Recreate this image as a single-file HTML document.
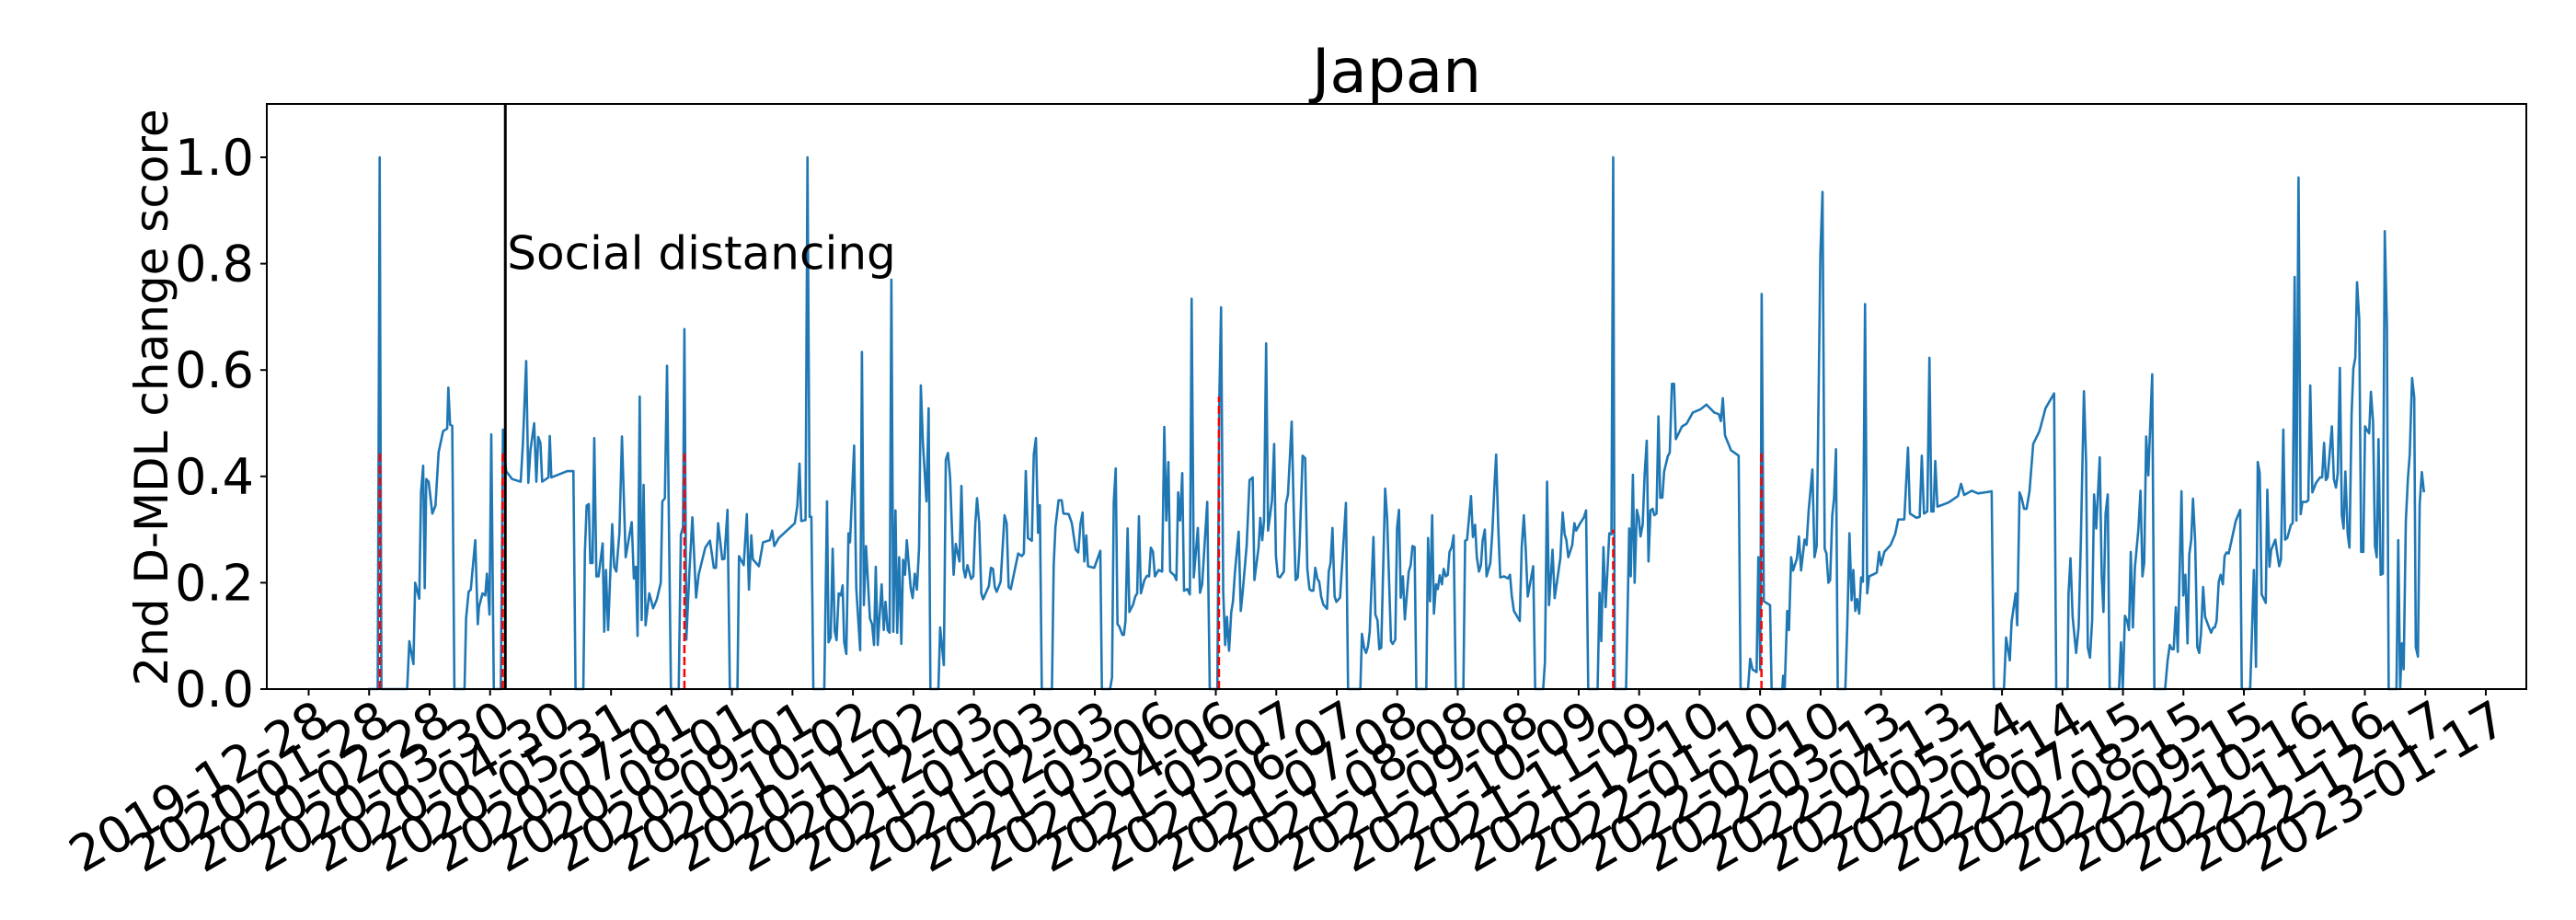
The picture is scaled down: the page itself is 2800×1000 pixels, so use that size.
<!DOCTYPE html>
<html><head><meta charset="utf-8"><style>
html,body{margin:0;padding:0;background:#fff;}
svg{display:block;font-family:"DejaVu Sans","Liberation Sans",sans-serif;}
</style></head><body>
<svg id="chart" width="2800" height="1000" viewBox="0 0 2800 1000" xmlns="http://www.w3.org/2000/svg">
<rect width="2800" height="1000" fill="#fff"/>
<text x="1518" y="100" font-size="66" text-anchor="middle">Japan</text>
<text transform="translate(182,432) rotate(-90)" font-size="50" text-anchor="middle">2nd D-MDL change score</text>
<g id="marks"></g>
<rect x="290" y="113" width="2456" height="636" fill="none" stroke="#000" stroke-width="2"/>
<g id="axes"></g>
</svg>
<script>
const tickLabels=["2019-12-28","2020-01-28","2020-02-28","2020-03-30","2020-04-30","2020-05-31","2020-07-01","2020-08-01","2020-09-01","2020-10-02","2020-11-02","2020-12-03","2021-01-03","2021-02-03","2021-03-06","2021-04-06","2021-05-07","2021-06-07","2021-07-08","2021-08-08","2021-09-08","2021-10-09","2021-11-09","2021-12-10","2022-01-10","2022-02-10","2022-03-13","2022-04-13","2022-05-14","2022-06-14","2022-07-15","2022-08-15","2022-09-15","2022-10-16","2022-11-16","2022-12-17","2023-01-17"];
const yTicks=[0,0.2,0.4,0.6,0.8,1.0];
const yTickLabels=["0.0","0.2","0.4","0.6","0.8","1.0"];
const days=[30.4,35.4,36.4,37.3,50.5,51.6,53.7,54.6,56.7,57.6,58.7,59.5,60.3,61.5,63.4,65,66.6,68.9,71,71.6,72.5,73.6,74.7,79.9,80.7,82,83.1,85.4,86.7,87.3,89.1,90.5,91.4,92.7,93.6,94.9,98.5,99.6,101.2,104.3,108.7,109.8,111.5,112.6,113.7,115.6,116.7,117.7,118.8,119.7,122.9,123.6,124.4,132.6,135.7,136.8,140.8,141.6,142.5,143.6,144.4,145.5,146.4,147.5,148.6,150.7,151.5,152.4,153.5,155.6,156.6,157.7,159.3,160.6,162.5,165.6,166.7,167.7,168.6,169.7,170.7,171.7,172.7,174.6,176.6,178.5,180.5,181.3,182.6,183.7,185.7,189.7,190.8,191.9,192.6,193.6,195.2,196.7,198.6,199.9,203.3,205.7,207.7,208.8,209.9,212,213.1,214.7,215.9,219.8,220.6,223,224.6,225.7,226.9,227.7,230.8,232.9,236.4,237.6,238.7,241,249.2,250.5,251.6,252.5,254.7,255.7,256.8,257.7,258.7,264.3,265.7,266.5,267.6,268.6,269.7,270.6,271.7,272.8,273.7,274.5,275.6,276.7,277.5,279.6,280.7,282.7,283.6,284.6,285.7,287.7,288.8,289.8,290.7,291.7,293.7,294.8,295.7,296.8,297.8,298.7,299.7,300.8,301.7,302.7,303.8,304.7,305.7,306.6,308.6,309.6,310.7,311.8,312.9,313.8,314.9,316.7,317.8,318.7,322.8,323.7,325.6,326.6,327.7,328.8,330.6,331.7,333.6,334.6,335.7,336.6,337.7,339.6,340.7,341.7,342.6,343.7,344.8,345.7,348.7,349.7,350.8,351.7,352.7,354.7,356.7,357.8,358.8,359.9,363.7,365.5,366.6,367.6,368.7,370.7,371.7,372.8,373.9,374.8,375.8,381,381.9,382.8,384.4,386,386.9,389.6,391.2,393.2,394.5,395.6,396.7,397.6,398.6,399.5,402.7,405.8,406.6,410.8,411.8,412.7,413.7,414.6,415.5,417.1,417.9,418.7,419.8,420.7,422.6,423.7,424.7,425.6,426.6,428.4,429.7,430.8,431.7,432.8,433.8,435.7,437.5,438.6,439.6,440.7,441.6,443.7,444.8,445.7,446.7,447.8,448.7,450.4,451.7,452.6,453.7,455.8,456.9,458,460.6,461.9,465.8,466.8,467.7,468.8,469.8,470.7,471.8,472.9,473.8,474.8,476.7,477.8,478.7,480.8,482.3,483.9,484.8,486.9,487.8,488.8,489.7,490.8,491.8,493.8,494.9,495.8,496.8,497.9,499.9,500.9,502,503.9,505.1,505.9,507,507.9,509.5,510.8,511.9,513,514.1,515,516,517.1,518,519,520.1,522,522.9,523.8,524.8,525.9,526.8,528.7,531.7,532.8,539.1,539.9,541,542,543,543.9,545.8,546.8,547.9,548.8,549.8,551.8,552.8,554.8,555.7,557,557.9,558.9,559.8,560.9,561.9,563.9,564.9,565.8,566.9,567.8,572.9,573.8,574.8,575.9,576.8,577.9,578.8,579.8,580.9,581.8,582.9,583.9,584.8,585.9,586.9,588,591.9,592.8,593.8,595.8,596.8,597.9,598.8,599.9,600.9,601.8,602.9,603.8,605.7,606.8,607.8,608.7,609.8,610.8,612.8,614.7,615.8,616.7,617.8,620.8,621.8,622.9,623.8,624.9,627.7,628.7,632.8,633.7,634.8,635.8,637.6,638.7,641.6,642.8,643.8,644.7,645.7,647.7,648.8,649.7,651.8,653.7,654.8,655.9,660.7,661.7,662.6,663.7,664.8,666.7,667.8,668.7,669.5,675.3,676.9,677.7,678.8,679.7,680.8,681.8,682.7,683.8,684.8,685.9,686.8,687.8,688.9,689.8,690.9,691.9,692.8,693.9,694.8,696.7,697.7,698.8,699.9,700.8,704,706.3,709.5,713.4,716.5,720.5,722.8,723.9,724.9,726,729.1,733,734,737.8,738.9,740.1,742.2,743.1,744.1,744.8,745.9,749.1,749.9,755.4,755.8,756.6,757.9,758.8,759.9,760.9,762.9,763.9,765,766.8,767.8,768.9,770.8,771.9,773,774.9,776,777.1,778,779,779.9,781,781.9,782.9,783.8,787.7,788.7,789.8,790.9,791.8,792.8,793.7,794.8,795.8,796.7,797.8,798.9,799.9,801.7,803.8,805,806,807.7,810.9,813.2,814.8,817.9,819.8,820.8,824.2,825.8,826.9,828,829.7,830.8,831.8,832.9,833.8,834.9,840,841.5,845.4,847,848.6,852.5,855.7,859.6,862.7,863.8,869,870.1,872,872.9,875,875.8,877,878,879.3,880.6,882.1,884,887.2,890.3,894.7,895.8,901.6,902.1,903.1,904.2,906,907.3,908.4,910,911.1,912,913.1,914.2,915.2,916.3,918.1,919.1,920,921.1,922.2,923.2,928,929,929.9,931,932.1,933.1,934,935.1,936.1,937.9,939,940,940.9,941.9,943,945,946.1,951.6,952.9,954,955.1,956,957.1,958.1,960,960.9,962,963.1,964,965,965.9,967,968.1,969.1,970,971.1,972.1,974.1,975.2,976.2,977.1,978,979.1,980.1,981.2,982.1,983.1,984.2,986.1,987.8,990.1,990.9,995.2,996.1,997.1,998.2,999.1,1000.1,1001.1,1003.2,1004,1005.1,1006,1008.1,1009,1010.1,1011,1012.2,1013.1,1014.2,1016.1,1017,1018,1018.9,1020,1021.1,1022,1023.9,1025,1026,1027.1,1029,1031,1032.1,1033.1,1034,1034.9,1036,1037.1,1038.1,1039.2,1040.1,1041.2,1042.2,1043.1,1044,1045.2,1046.1,1047.2,1048.1,1049.1,1050,1051.1,1052.1,1053.2,1054.1,1055.1,1056.2,1057.1,1058.2,1059.2,1060.1,1061,1062.1,1063.2,1064.2,1065.3,1066.2,1070.2,1071.1,1072.1,1073,1073.9,1075,1076.1,1077,1078.2,1079.3,1080.1,1081.2,1082.1,1083.2,1084.3];
const scores=[0,0,1.0,0,0,0.09,0.047,0.20,0.17,0.37,0.42,0.19,0.395,0.39,0.33,0.345,0.445,0.485,0.49,0.567,0.497,0.495,0,0,0.133,0.183,0.187,0.28,0.122,0.154,0.18,0.176,0.217,0.14,0.479,0,0,0.488,0.41,0.395,0.39,0.46,0.617,0.388,0.45,0.50,0.39,0.474,0.463,0.39,0.398,0.476,0.398,0.41,0.41,0,0,0.258,0.345,0.348,0.237,0.237,0.472,0.212,0.212,0.274,0.108,0.224,0.111,0.31,0.23,0.221,0.294,0.475,0.248,0.314,0.208,0.23,0.10,0.55,0.13,0.384,0.12,0.18,0.152,0.169,0.20,0.353,0.359,0.608,0,0,0.29,0.305,0.677,0.093,0.223,0.323,0.172,0.215,0.266,0.279,0.228,0.228,0.312,0.244,0.245,0.337,0,0,0.25,0.233,0.329,0.187,0.289,0.244,0.231,0.276,0.28,0.298,0.269,0.284,0.312,0.345,0.424,0.316,0.318,1.0,0.324,0.324,0,0,0.353,0.088,0.097,0.264,0.108,0.092,0.18,0.176,0.195,0.088,0.066,0.293,0.276,0.458,0.19,0.073,0.634,0.158,0.269,0.133,0.122,0.083,0.23,0.083,0.197,0.111,0.164,0.111,0.106,0.77,0.108,0.336,0.106,0.248,0.085,0.243,0.215,0.28,0.19,0.171,0.217,0.187,0.266,0.571,0.46,0.353,0.528,0,0,0.116,0.045,0.431,0.444,0.398,0.215,0.273,0.24,0.382,0.226,0.21,0.233,0.207,0.212,0.309,0.359,0.312,0.18,0.169,0.194,0.228,0.226,0.192,0.183,0.202,0.327,0.312,0.192,0.188,0.255,0.25,0.255,0.41,0.284,0.279,0.441,0.472,0.294,0.346,0,0,0.233,0.305,0.355,0.355,0.33,0.329,0.312,0.262,0.257,0.31,0.332,0.24,0.289,0.231,0.228,0.26,0,0,0.022,0.352,0.415,0.122,0.118,0.102,0.102,0.128,0.302,0.145,0.159,0.174,0.18,0.325,0.18,0.205,0.213,0.212,0.266,0.258,0.212,0.224,0.221,0.493,0.317,0.427,0.221,0.214,0.205,0.37,0.317,0.406,0.185,0.188,0.178,0.734,0.21,0.303,0.181,0.197,0.352,0,0,0.546,0.718,0.183,0.083,0.136,0.072,0.144,0.165,0.219,0.296,0.147,0.179,0.269,0.393,0.398,0.205,0.266,0.322,0.28,0.316,0.65,0.298,0.355,0.461,0.251,0.212,0.21,0.221,0.348,0.366,0.503,0.312,0.205,0.21,0.266,0.439,0.434,0.226,0.188,0.185,0.185,0.228,0.207,0.202,0.174,0.159,0.151,0.221,0.237,0.303,0.174,0.164,0.172,0.35,0,0,0.104,0.078,0.068,0.08,0.108,0.286,0.14,0.129,0.075,0.078,0.377,0.323,0.09,0.085,0.093,0.303,0.337,0.172,0.212,0.131,0.221,0.233,0.269,0.267,0,0,0.284,0.165,0.327,0.142,0.197,0.188,0.214,0.197,0.226,0.212,0.215,0.258,0.267,0.289,0,0,0.279,0.281,0.363,0.286,0.309,0.248,0.221,0.233,0.28,0.30,0.212,0.237,0.298,0.38,0.441,0.303,0.21,0.212,0.208,0.215,0.176,0.147,0.128,0.266,0.327,0.267,0.174,0.231,0,0,0.05,0.39,0.158,0.262,0.171,0.246,0.332,0.291,0.28,0.248,0.271,0.312,0.298,0.312,0.323,0.336,0,0,0.181,0.09,0.267,0.154,0.293,0.291,1.0,0,0,0.302,0.212,0.403,0.20,0.337,0.322,0.287,0.309,0.402,0.467,0.24,0.336,0.339,0.327,0.33,0.513,0.36,0.36,0.409,0.438,0.445,0.574,0.574,0.47,0.494,0.499,0.52,0.526,0.535,0.52,0.517,0.504,0.547,0.477,0.449,0.439,0,0,0.057,0.037,0.032,0.248,0.036,0.743,0.165,0.158,0,0,0.025,0,0.147,0.111,0.248,0.223,0.246,0.287,0.223,0.281,0.271,0.336,0.413,0.248,0.269,0.818,0.935,0.264,0.255,0.20,0.205,0.327,0.359,0.451,0,0,0.122,0.293,0.167,0.224,0.147,0.169,0.142,0.21,0.202,0.724,0.18,0.212,0.215,0.219,0.258,0.233,0.258,0.271,0.291,0.319,0.319,0.454,0.33,0.322,0.324,0.439,0.33,0.334,0.623,0.334,0.334,0.429,0.343,0.35,0.353,0.363,0.386,0.365,0.373,0.368,0.37,0.372,0,0,0.097,0.054,0.126,0.18,0.12,0.37,0.36,0.339,0.339,0.372,0.461,0.485,0.528,0.556,0,0,0.18,0.246,0.136,0.068,0.118,0.276,0.56,0.427,0.078,0.059,0.129,0.366,0.302,0.436,0.215,0.145,0.33,0.366,0,0,0.088,0,0.138,0.129,0.111,0.258,0.116,0.228,0.30,0.373,0.212,0.238,0.475,0.402,0.592,0,0,0.054,0.083,0.075,0.075,0.154,0.07,0.372,0.176,0.215,0.086,0.253,0.281,0.358,0.279,0.079,0.068,0.104,0.192,0.136,0.116,0.106,0.115,0.116,0.128,0.202,0.215,0.197,0.25,0.257,0.255,0.287,0.316,0.337,0,0,0.104,0.224,0.042,0.427,0.406,0.178,0.162,0.375,0.23,0.262,0.281,0.257,0.231,0.244,0.488,0.281,0.284,0.309,0.312,0.775,0.317,0.962,0.329,0.352,0.352,0.355,0.571,0.37,0.388,0.398,0.398,0.463,0.393,0.398,0.445,0.494,0.395,0.379,0.406,0.604,0.327,0.302,0.409,0.291,0.266,0.517,0.603,0.623,0.765,0.696,0.258,0.258,0.494,0.487,0.481,0.559,0.503,0.269,0.248,0.47,0.215,0.217,0.861,0.682,0,0,0.28,0,0.086,0.037,0.316,0.398,0.441,0.585,0.549,0.079,0.061,0.348,0.408,0.37];
const changeDays=[36.5,99.4,192.6,466.6,668.7,744.7];
const changeHeights=[0.45,0.45,0.45,0.55,0.3,0.45];
const eventDay=[100.8];
const eventLabels=["Social distancing"];

const NS="http://www.w3.org/2000/svg";
const X0=335.5, PXD=2.1205, Y0=749, PXU=578;
function xs(d){return X0+d*PXD;}
function ys(v){return Y0-v*PXU;}
function dayOf(s){return Math.round((Date.parse(s)-Date.parse("2019-12-28"))/86400000);}
function mk(tag,attrs,parent){const e=document.createElementNS(NS,tag);for(const k in attrs)e.setAttribute(k,attrs[k]);parent.appendChild(e);return e;}
const marks=document.getElementById('marks'), axes=document.getElementById('axes');

let d="";
for(let i=0;i<days.length;i++){d+=(i?"L":"M")+xs(days[i]).toFixed(2)+","+ys(scores[i]).toFixed(2);}
const line=mk('path',{d:d,fill:"none",stroke:"#1f77b4","stroke-width":"2.6","stroke-linejoin":"round"},marks);



for(let i=0;i<changeDays.length;i++){
  const l=mk('line',{x1:xs(changeDays[i]),x2:xs(changeDays[i]),y1:ys(0),y2:ys(changeHeights[i]),stroke:"#ff0000","stroke-width":"2.5","stroke-dasharray":"9,4"},marks);
  
  
}

for(let i=0;i<eventDay.length;i++){
  const l=mk('line',{x1:xs(eventDay[i]),x2:xs(eventDay[i]),y1:113,y2:749,stroke:"#000","stroke-width":"3"},marks);
  
  
  const t=mk('text',{x:xs(eventDay[i])+2,y:ys(0.8)+6,"font-size":"50"},marks);
  t.textContent=eventLabels[i];
  
  
}

for(let i=0;i<yTicks.length;i++){
  const y=ys(yTicks[i]);
  const tk=mk('line',{x1:283,x2:290,y1:y,y2:y,stroke:"#000","stroke-width":"2"},axes);
  
  
  const t=mk('text',{x:276,y:y+19,"font-size":"54","text-anchor":"end"},axes);
  t.textContent=yTickLabels[i];
  
  
}
for(let i=0;i<tickLabels.length;i++){
  const x=xs(dayOf(tickLabels[i]));
  const tk=mk('line',{x1:x,x2:x,y1:749,y2:756,stroke:"#000","stroke-width":"2"},axes);
  
  
  const t=mk('text',{x:0,y:0,dy:"40","font-size":"54","text-anchor":"end",transform:"translate("+(x+6)+",758) rotate(-30)"},axes);
  t.textContent=tickLabels[i];
  
  
}
</script>
</body></html>
